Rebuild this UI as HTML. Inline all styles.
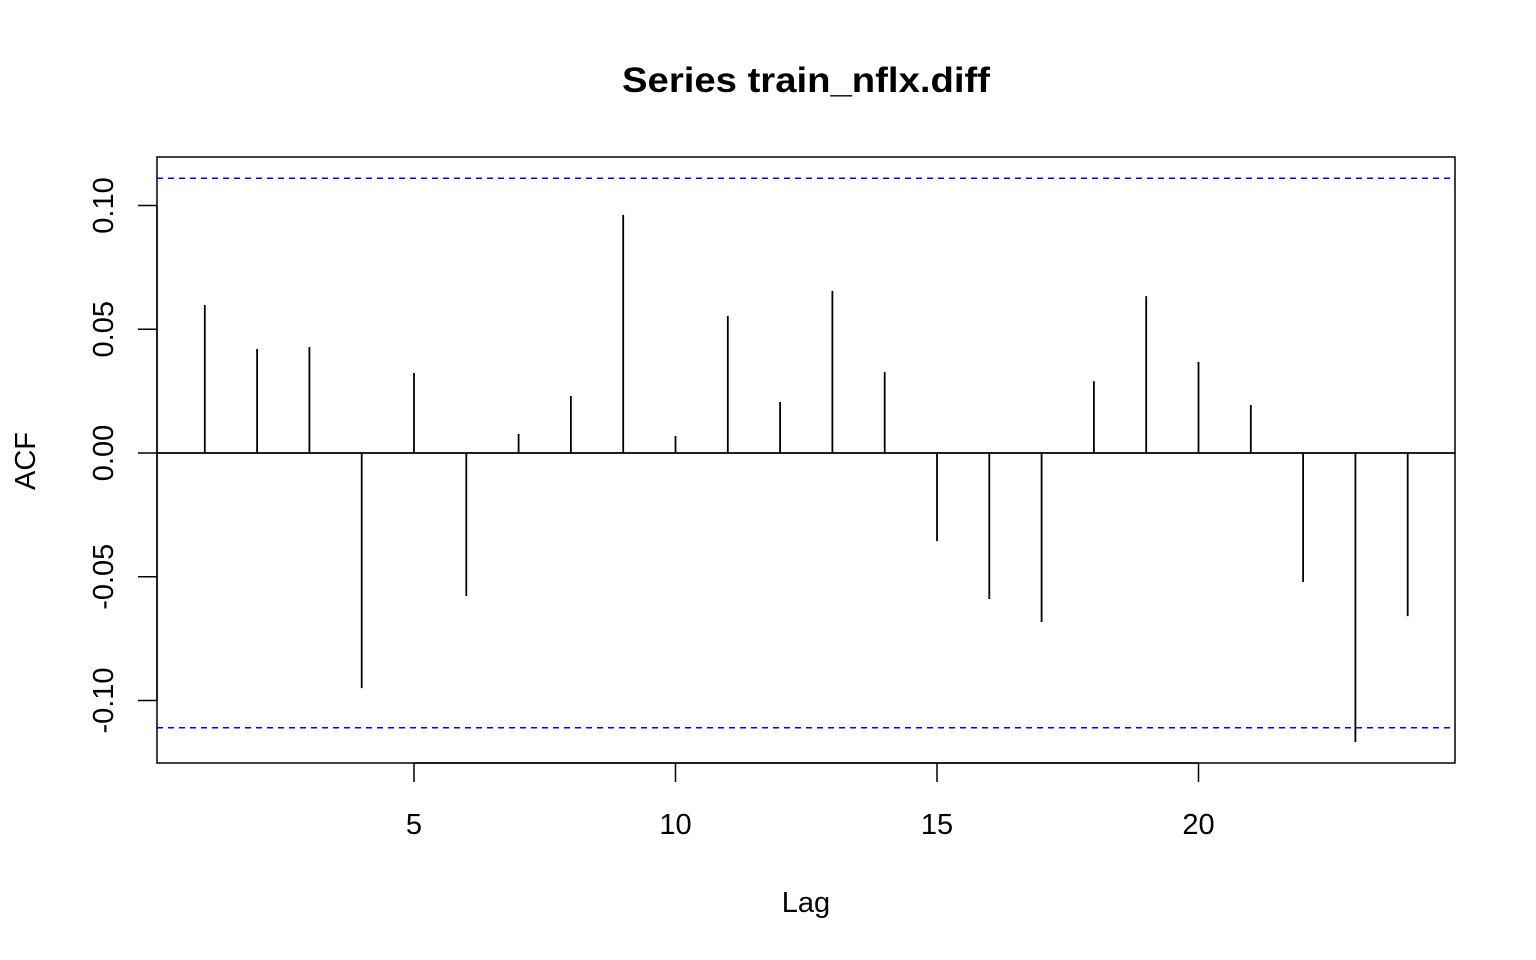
<!DOCTYPE html>
<html><head><meta charset="utf-8"><style>
html,body{margin:0;padding:0;background:#fff;}
svg{display:block;font-family:"Liberation Sans",Arial,sans-serif;}
</style></head><body>
<svg id="chart" width="1536" height="960" viewBox="0 0 1536 960">
<text x="806" y="92" text-anchor="middle" font-size="35" font-weight="bold" textLength="368" lengthAdjust="spacingAndGlyphs">Series train_nflx.diff</text>
<rect x="157" y="157" width="1298" height="606" fill="none" stroke="#000" stroke-width="1.5"/>
<g id="xaxis"></g>
<g id="yaxis"></g>
<text x="806" y="912" text-anchor="middle" font-size="29">Lag</text>
<text transform="translate(35,461) rotate(-90)" text-anchor="middle" font-size="29">ACF</text>
<g id="marks"></g>
</svg>
<script>
const lags = [1,2,3,4,5,6,7,8,9,10,11,12,13,14,15,16,17,18,19,20,21,22,23,24];
const acfValues = [0.0598,0.042,0.0428,-0.095,0.0323,-0.0578,0.0077,0.023,0.0962,0.0069,0.0554,0.0206,0.0655,0.0327,-0.0356,-0.059,-0.0683,0.029,0.0634,0.0368,0.0194,-0.0521,-0.1168,-0.0659];
const ciBound = 0.111;
const xTicks = [5,10,15,20];
const yTicks = [-0.10,-0.05,0.00,0.05,0.10];
const yTickLabels = ["-0.10","-0.05","0.00","0.05","0.10"];

const NS = "http://www.w3.org/2000/svg";
function xs(l){ return 152.5 + l*52.3; }
function ys(v){ return 453 - v*2475; }
function mk(tag, attrs, parent){
  const e = document.createElementNS(NS, tag);
  for (const k in attrs) e.setAttribute(k, attrs[k]);
  parent.appendChild(e); return e;
}
const marks = document.getElementById('marks');
const xaxis = document.getElementById('xaxis');
const yaxis = document.getElementById('yaxis');

const zl = mk('line',{x1:157,x2:1455,y1:ys(0),y2:ys(0),stroke:'#000','stroke-width':1.8},marks);



[ciBound, -ciBound].forEach((b,i)=>{
  const l = mk('line',{x1:157,x2:1455,y1:ys(b),y2:ys(b),stroke:'#0000ff','stroke-width':1.5,'stroke-dasharray':'6,5'},marks);
  
  
});

lags.forEach((lag,i)=>{
  const b = mk('line',{x1:xs(lag),x2:xs(lag),y1:ys(0),y2:ys(acfValues[i]),stroke:'#000','stroke-width':1.8},marks);
  
  
});

const xl = mk('line',{x1:xs(xTicks[0]),x2:xs(xTicks[xTicks.length-1]),y1:763,y2:763,stroke:'#000','stroke-width':1.5},xaxis);


xTicks.forEach(t=>{
  const tk = mk('line',{x1:xs(t),x2:xs(t),y1:763,y2:782,stroke:'#000','stroke-width':1.5},xaxis);
  
  
  const tx = mk('text',{x:xs(t),y:834,'text-anchor':'middle','font-size':29},xaxis);
  tx.textContent = String(t);
  
  
});

const yl = mk('line',{x1:157,x2:157,y1:ys(yTicks[0]),y2:ys(yTicks[yTicks.length-1]),stroke:'#000','stroke-width':1.5},yaxis);


yTicks.forEach((t,i)=>{
  const tk = mk('line',{x1:138,x2:157,y1:ys(t),y2:ys(t),stroke:'#000','stroke-width':1.5},yaxis);
  
  
  const tx = mk('text',{transform:'translate(113,'+ys(t)+') rotate(-90)','text-anchor':'middle','font-size':29},yaxis);
  tx.textContent = yTickLabels[i];
  
  
});
</script>
</body></html>
